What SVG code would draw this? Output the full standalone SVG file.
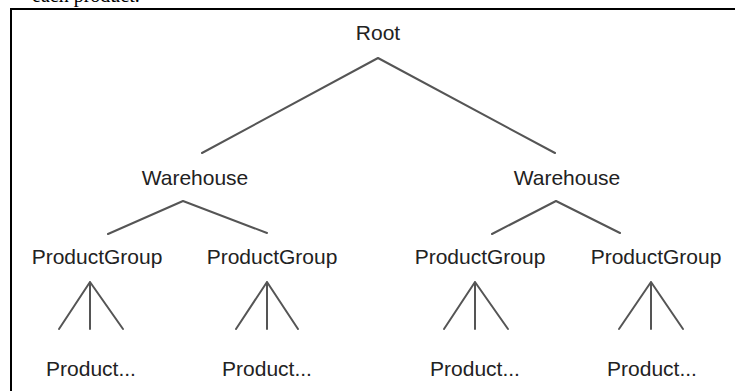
<svg xmlns="http://www.w3.org/2000/svg" width="735" height="391" viewBox="0 0 735 391">
<style>
.lbl{font-family:"Liberation Sans",Arial,sans-serif;font-size:21px;fill:#222;text-anchor:middle}
.edge{stroke:#555;stroke-width:2;fill:none;stroke-linecap:round;stroke-linejoin:round}
.cap{font-family:"Liberation Serif","Times New Roman",serif;font-size:20px;fill:#000}
</style>
<rect width="735" height="391" fill="#fff"/>
<text class="cap" x="32" y="2">each product.</text>
<path d="M11,400 V9 H745" fill="none" stroke="#000" stroke-width="2"/>
<g id="connectors">
  <polyline class="edge" points="202,153 378,58 555,153"/>
  <polyline class="edge" points="108,234 183,201 267,233"/>
  <polyline class="edge" points="492,234 556,201 620,233"/>
  <path class="edge" d="M59,329 L90,282 L123,329 M90,282 V329"/>
  <path class="edge" d="M236,329 L267,282 L298,329 M267,282 V329"/>
  <path class="edge" d="M444,329 L475,282 L508,329 M475,282 V329"/>
  <path class="edge" d="M619,329 L651,282 L683,329 M651,282 V329"/>
</g>
<g id="root"><text class="lbl" x="378" y="40">Root</text></g>
<g id="warehouse1"><text class="lbl" x="195" y="185">Warehouse</text></g>
<g id="warehouse2"><text class="lbl" x="567" y="185">Warehouse</text></g>
<g id="pg1"><text class="lbl" x="97" y="264">ProductGroup</text></g>
<g id="pg2"><text class="lbl" x="272" y="264">ProductGroup</text></g>
<g id="pg3"><text class="lbl" x="480" y="264">ProductGroup</text></g>
<g id="pg4"><text class="lbl" x="656" y="264">ProductGroup</text></g>
<g id="product1"><text class="lbl" x="91" y="376">Product...</text></g>
<g id="product2"><text class="lbl" x="267" y="376">Product...</text></g>
<g id="product3"><text class="lbl" x="475" y="376">Product...</text></g>
<g id="product4"><text class="lbl" x="652" y="376">Product...</text></g>
</svg>
